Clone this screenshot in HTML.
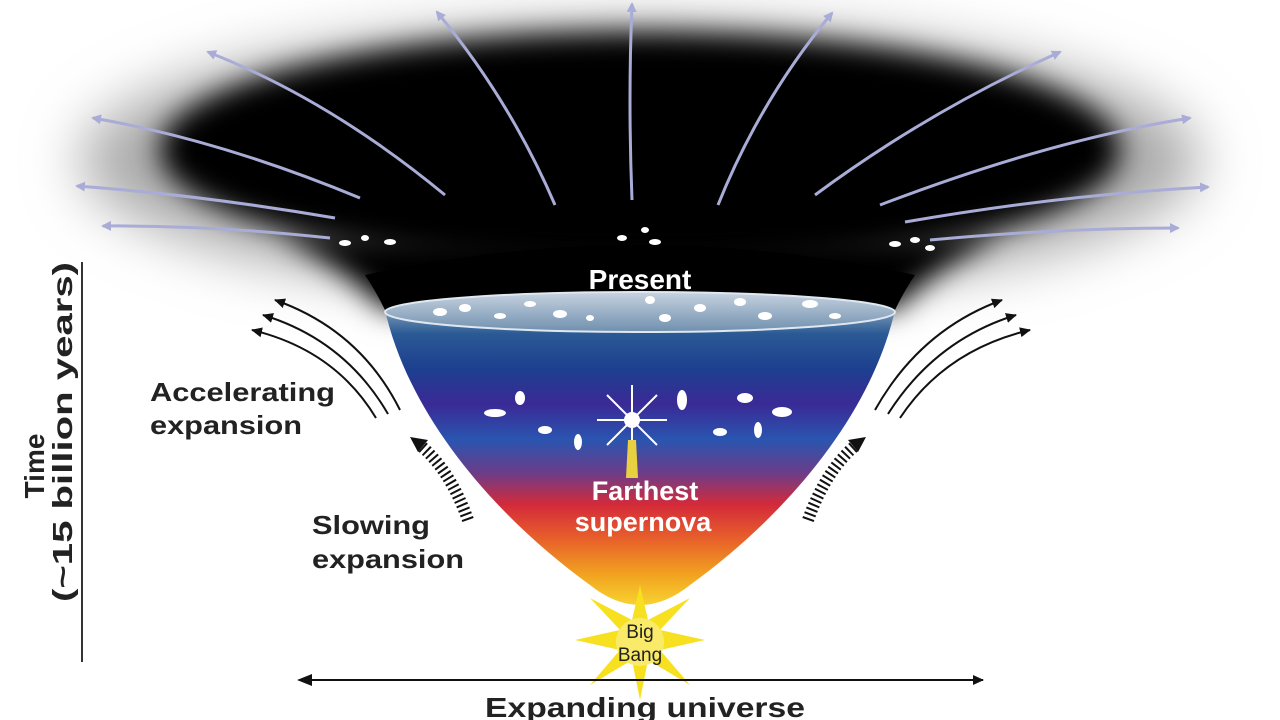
<!DOCTYPE html>
<html><head><meta charset="utf-8"><style>
html,body{margin:0;padding:0;background:#fff;}
svg{display:block;}
text{font-family:"Liberation Sans",sans-serif;}
</style></head><body>
<svg width="1280" height="720" viewBox="0 0 1280 720" xmlns="http://www.w3.org/2000/svg">
<defs>
<filter id="b1" filterUnits="userSpaceOnUse" x="0" y="-100" width="1280" height="500"><feGaussianBlur stdDeviation="28"/></filter>
<filter id="b2" filterUnits="userSpaceOnUse" x="0" y="-100" width="1280" height="500"><feGaussianBlur stdDeviation="14"/></filter>
<linearGradient id="fun" x1="0" y1="0" x2="0" y2="1">
<stop offset="0" stop-color="#7d9bb8"/>
<stop offset="0.08" stop-color="#2b5a95"/>
<stop offset="0.2" stop-color="#1d3f8f"/>
<stop offset="0.32" stop-color="#3a2a96"/>
<stop offset="0.44" stop-color="#2a55b0"/>
<stop offset="0.55" stop-color="#6a3d8a"/>
<stop offset="0.66" stop-color="#d42a3a"/>
<stop offset="0.78" stop-color="#e8622a"/>
<stop offset="0.9" stop-color="#f2a420"/>
<stop offset="1" stop-color="#f7d230"/>
</linearGradient>
<linearGradient id="top" x1="0" y1="0" x2="0" y2="1">
<stop offset="0" stop-color="#c7d3e0"/><stop offset="1" stop-color="#6f8fae"/>
</linearGradient>
<marker id="ah" markerWidth="10" markerHeight="10" refX="8" refY="5" orient="auto" markerUnits="userSpaceOnUse"><path d="M0,0 L10,5 L0,10 Z" fill="#a9acd6"/></marker>
<marker id="bk" markerWidth="12" markerHeight="12" refX="10" refY="6" orient="auto" markerUnits="userSpaceOnUse"><path d="M0,1 L11,6 L0,11 Z" fill="#111"/></marker>
</defs>

<ellipse cx="640" cy="160" rx="560" ry="135" fill="#aaa" filter="url(#b1)"/>
<ellipse cx="640" cy="150" rx="480" ry="118" fill="#000" filter="url(#b2)"/>
<path d="M280,235 C340,265 365,290 385,310 L895,310 C915,290 940,265 1000,235 Z" fill="#000" filter="url(#b2)"/>
<path d="M365,275 C375,290 380,300 385,310 L895,310 C900,300 905,290 915,275 Q640,215 365,275 Z" fill="#000"/>

<path d="M385,310 C410,420 500,520 590,585 Q640,625 690,585 C780,520 870,420 895,310 Z" fill="url(#fun)"/>
<ellipse cx="640" cy="312" rx="255" ry="20" fill="url(#top)"/>
<ellipse cx="640" cy="312" rx="255" ry="20" fill="none" stroke="#dfe8f0" stroke-width="2"/>
<g fill="#fff">
<ellipse cx="440" cy="312" rx="7" ry="4"/><ellipse cx="465" cy="308" rx="6" ry="4"/><ellipse cx="500" cy="316" rx="6" ry="3"/><ellipse cx="530" cy="304" rx="6" ry="3"/><ellipse cx="560" cy="314" rx="7" ry="4"/><ellipse cx="590" cy="318" rx="4" ry="3"/><ellipse cx="650" cy="300" rx="5" ry="4"/><ellipse cx="665" cy="318" rx="6" ry="4"/><ellipse cx="700" cy="308" rx="6" ry="4"/><ellipse cx="740" cy="302" rx="6" ry="4"/><ellipse cx="765" cy="316" rx="7" ry="4"/><ellipse cx="810" cy="304" rx="8" ry="4"/><ellipse cx="835" cy="316" rx="6" ry="3"/>
<ellipse cx="495" cy="413" rx="11" ry="4"/><ellipse cx="520" cy="398" rx="5" ry="7"/><ellipse cx="545" cy="430" rx="7" ry="4"/><ellipse cx="578" cy="442" rx="4" ry="8"/><ellipse cx="682" cy="400" rx="5" ry="10"/><ellipse cx="720" cy="432" rx="7" ry="4"/><ellipse cx="745" cy="398" rx="8" ry="5"/><ellipse cx="782" cy="412" rx="10" ry="5"/><ellipse cx="758" cy="430" rx="4" ry="8"/>
<ellipse cx="345" cy="243" rx="6" ry="3"/><ellipse cx="365" cy="238" rx="4" ry="3"/><ellipse cx="390" cy="242" rx="6" ry="3"/><ellipse cx="622" cy="238" rx="5" ry="3"/><ellipse cx="645" cy="230" rx="4" ry="3"/><ellipse cx="655" cy="242" rx="6" ry="3"/><ellipse cx="895" cy="244" rx="6" ry="3"/><ellipse cx="915" cy="240" rx="5" ry="3"/><ellipse cx="930" cy="248" rx="5" ry="3"/>
</g>
<g stroke="#fff" stroke-width="2">
<line x1="632" y1="385" x2="632" y2="455"/><line x1="597" y1="420" x2="667" y2="420"/><line x1="607" y1="395" x2="657" y2="445"/><line x1="657" y1="395" x2="607" y2="445"/>
</g>
<circle cx="632" cy="420" r="8" fill="#fff"/>
<path d="M628,440 L636,440 L638,478 L626,478 Z" fill="#e8d040"/>

<g stroke="#a9acd6" stroke-width="3" fill="none" marker-end="url(#ah)">
<path d="M330,238 Q210,225 103,226"/>
<path d="M335,218 Q200,195 77,186"/>
<path d="M360,198 Q220,140 93,118"/>
<path d="M445,195 Q330,100 208,52"/>
<path d="M555,205 Q510,100 437,12"/>
<path d="M632,200 Q628,100 632,4"/>
<path d="M718,205 Q760,100 832,13"/>
<path d="M815,195 Q930,110 1060,52"/>
<path d="M880,205 Q1050,140 1190,118"/>
<path d="M905,222 Q1060,195 1208,187"/>
<path d="M930,240 Q1060,228 1178,228"/>
</g>

<g stroke="#111" stroke-width="2" fill="none" marker-end="url(#bk)">
<path d="M400,410 Q360,330 275,300"/>
<path d="M388,414 Q345,340 263,315"/>
<path d="M376,418 Q335,350 252,330"/>
<path d="M875,410 Q920,330 1002,300"/>
<path d="M888,414 Q935,340 1016,315"/>
<path d="M900,418 Q945,350 1030,330"/>
</g>
<g stroke="#111" stroke-width="12" stroke-dasharray="2,3" fill="none">
<path d="M468,520 Q450,470 420,445"/>
<path d="M808,520 Q826,470 856,445"/>
</g>
<path d="M410,437 L428,440 L418,452 Z" fill="#111"/>
<path d="M866,437 L848,440 L858,452 Z" fill="#111"/>

<polygon fill="#f7e020" points="640,585 648,620 690,598 660,630 705,640 660,650 690,685 648,660 640,700 632,660 590,685 620,650 575,640 620,630 590,598 632,620"/>
<circle cx="640" cy="642" r="24" fill="#f9ea6a"/>
<text x="640" y="638" font-size="19" text-anchor="middle" fill="#222">Big</text>
<text x="640" y="661" font-size="19" text-anchor="middle" fill="#222">Bang</text>

<text x="640" y="289" font-size="28" font-weight="bold" text-anchor="middle" fill="#fff">Present</text>
<text x="645" y="500" font-size="27" font-weight="bold" text-anchor="middle" fill="#fff">Farthest</text>
<text x="643" y="531" font-size="27" font-weight="bold" text-anchor="middle" fill="#fff">supernova</text>
<g font-size="26" font-weight="bold" fill="#222">
<text x="150" y="401" textLength="185" lengthAdjust="spacingAndGlyphs">Accelerating</text>
<text x="150" y="434" textLength="152" lengthAdjust="spacingAndGlyphs">expansion</text>
<text x="312" y="534" textLength="118" lengthAdjust="spacingAndGlyphs">Slowing</text>
<text x="312" y="568" textLength="152" lengthAdjust="spacingAndGlyphs">expansion</text>
</g>

<line x1="82" y1="262" x2="82" y2="662" stroke="#333" stroke-width="2"/>
<text transform="translate(44,466) rotate(-90)" font-size="28" font-weight="bold" text-anchor="middle" fill="#222">Time</text>
<text transform="translate(72,432) rotate(-90)" font-size="28" font-weight="bold" text-anchor="middle" fill="#222" textLength="340" lengthAdjust="spacingAndGlyphs">(~15 billion years)</text>

<line x1="302" y1="680" x2="983" y2="680" stroke="#111" stroke-width="2" marker-end="url(#bk)"/>
<path d="M297,680 L312,674 L312,686 Z" fill="#111"/>
<text x="645" y="717" font-size="28" font-weight="bold" text-anchor="middle" fill="#222" textLength="320" lengthAdjust="spacingAndGlyphs">Expanding universe</text>
</svg>
</body></html>
